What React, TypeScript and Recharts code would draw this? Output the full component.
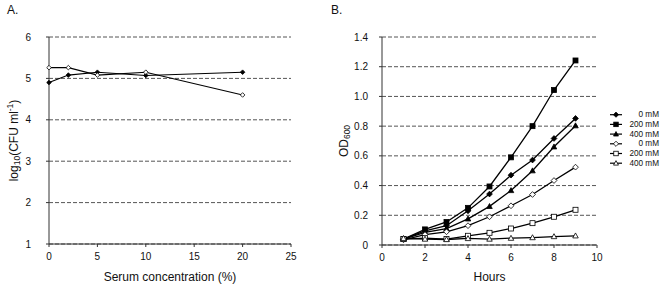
import React from "react";
import { LineChart, Line, XAxis, YAxis, CartesianGrid, Label } from "recharts";

const FONT = "'Liberation Sans', Arial, Helvetica, sans-serif";

// Panel A data
const serumConcentrations = [0, 2, 5, 10, 20];
const cfuFilled = [4.9, 5.08, 5.15, 5.07, 5.15];
const cfuOpen = [5.26, 5.26, 5.08, 5.15, 4.6];
const serumTicks = [0, 5, 10, 15, 20, 25];
const cfuTicks = [1, 2, 3, 4, 5, 6];

// Panel B data
const hours = [1, 2, 3, 4, 5, 6, 7, 8, 9];
const od0Filled = [0.04, 0.095, 0.13, 0.23, 0.343, 0.47, 0.572, 0.717, 0.852];
const od200Filled = [0.04, 0.105, 0.155, 0.25, 0.394, 0.59, 0.8, 1.043, 1.242];
const od400Filled = [0.04, 0.085, 0.11, 0.176, 0.26, 0.367, 0.5, 0.661, 0.803];
const od0Open = [0.035, 0.07, 0.089, 0.13, 0.19, 0.264, 0.34, 0.434, 0.524];
const od200Open = [0.04, 0.046, 0.04, 0.062, 0.082, 0.111, 0.147, 0.19, 0.237];
const od400Open = [0.045, 0.04, 0.037, 0.044, 0.04, 0.046, 0.05, 0.057, 0.062];
const hourTicks = [0, 2, 4, 6, 8, 10];
const odTicks = [0, 0.2, 0.4, 0.6, 0.8, 1.0, 1.2, 1.4];

type Shape = "diamond" | "square" | "triangle";

const seriesB: { key: string; name: string; shape: Shape; filled: boolean; values: number[] }[] = [
  { key: "f0", name: "0 mM", shape: "diamond", filled: true, values: od0Filled },
  { key: "f200", name: "200 mM", shape: "square", filled: true, values: od200Filled },
  { key: "f400", name: "400 mM", shape: "triangle", filled: true, values: od400Filled },
  { key: "o0", name: "0 mM", shape: "diamond", filled: false, values: od0Open },
  { key: "o200", name: "200 mM", shape: "square", filled: false, values: od200Open },
  { key: "o400", name: "400 mM", shape: "triangle", filled: false, values: od400Open },
];

const dataA = serumConcentrations.map((c, i) => ({ c, filled: cfuFilled[i], open: cfuOpen[i] }));
const dataB = hours.map((h, i) => {
  const row: Record<string, number> = { h };
  seriesB.forEach((s) => (row[s.key] = s.values[i]));
  return row;
});

function Marker({ cx, cy, shape, filled, size }: { cx: number; cy: number; shape: Shape; filled: boolean; size: number }) {
  const fill = filled ? "#000" : "#fff";
  const stroke = "#000";
  const r = size / 2;
  if (shape === "diamond") {
    const d = r * 1.15;
    return <polygon points={`${cx},${cy - d} ${cx + d},${cy} ${cx},${cy + d} ${cx - d},${cy}`} fill={fill} stroke={stroke} strokeWidth={0.8} />;
  }
  if (shape === "square") {
    return <rect x={cx - r} y={cy - r} width={size} height={size} fill={fill} stroke={stroke} strokeWidth={0.8} />;
  }
  const h = size * 0.95;
  return (
    <polygon
      points={`${cx},${cy - h * 0.6} ${cx + r * 1.1},${cy + h * 0.45} ${cx - r * 1.1},${cy + h * 0.45}`}
      fill={fill}
      stroke={stroke}
      strokeWidth={0.8}
    />
  );
}

const makeDot = (shape: Shape, filled: boolean, size: number) => (props: any) => {
  const { cx, cy, index } = props;
  if (cx == null || cy == null) return <g key={`e-${index}`} />;
  return (
    <g key={`d-${shape}-${filled}-${index}`}>
      <Marker cx={cx} cy={cy} shape={shape} filled={filled} size={size} />
    </g>
  );
};

const axisColor = "#333";
const tickStyle = { fill: "#111", fontSize: 10, fontFamily: FONT };

const YLabelA = (props: any) => {
  const vb = props.viewBox || { x: 0, y: 37, width: 49, height: 207 };
  const x = 14;
  const y = vb.y + vb.height / 2;
  return (
    <text x={x} y={y} transform={`rotate(-90 ${x} ${y})`} textAnchor="middle" dominantBaseline="central" fontFamily={FONT} fontSize={12} fill="#111">
      <tspan>log</tspan>
      <tspan fontSize={8.5} dy={3}>10</tspan>
      <tspan dy={-3}>(CFU ml</tspan>
      <tspan fontSize={8.5} dy={-4}>-1</tspan>
      <tspan dy={4}>)</tspan>
    </text>
  );
};

const YLabelB = (props: any) => {
  const vb = props.viewBox || { x: 0, y: 37, width: 52, height: 208 };
  const x = 14;
  const y = vb.y + vb.height / 2;
  return (
    <text x={x} y={y} transform={`rotate(-90 ${x} ${y})`} textAnchor="middle" dominantBaseline="central" fontFamily={FONT} fontSize={12} fill="#111">
      <tspan>OD</tspan>
      <tspan fontSize={8.5} dy={3}>600</tspan>
    </text>
  );
};

const XLabel = (text: string) => (props: any) => {
  const vb = props.viewBox || { x: 0, y: 0, width: 0, height: 0 };
  return (
    <text x={vb.x + vb.width / 2} y={281} textAnchor="middle" fontFamily={FONT} fontSize={12} fill="#111">
      {text}
    </text>
  );
};

export default function App() {
  return (
    <div style={{ position: "absolute", left: 0, top: 0, width: 661, height: 286, background: "#fff", overflow: "hidden" }}>
      <div style={{ position: "absolute", left: 7, top: 3, fontFamily: FONT, fontSize: 12, color: "#111" }}>A.</div>
      <div style={{ position: "absolute", left: 331, top: 3, fontFamily: FONT, fontSize: 12, color: "#111" }}>B.</div>

      <div style={{ position: "absolute", left: 0, top: 0 }}>
        <LineChart width={330} height={286} data={dataA} margin={{ top: 37, right: 39, bottom: 0, left: 0 }}>
          <CartesianGrid vertical={false} stroke="#555" strokeDasharray="4 2" />
          <XAxis
            dataKey="c"
            type="number"
            domain={[0, 25]}
            ticks={serumTicks}
            height={42}
            tick={tickStyle}
            tickSize={3}
            tickMargin={6}
            stroke={axisColor}
            interval={0}
          >
            <Label content={XLabel("Serum concentration (%)")} />
          </XAxis>
          <YAxis
            type="number"
            domain={[1, 6]}
            ticks={cfuTicks}
            width={49}
            tick={tickStyle}
            tickSize={3}
            tickMargin={15}
            stroke={axisColor}
            interval={0}
          >
            <Label content={YLabelA} />
          </YAxis>
          <Line dataKey="filled" stroke="#000" strokeWidth={1.1} isAnimationActive={false} dot={makeDot("diamond", true, 4)} activeDot={false} />
          <Line dataKey="open" stroke="#000" strokeWidth={1.1} isAnimationActive={false} dot={makeDot("diamond", false, 4)} activeDot={false} />
        </LineChart>
      </div>

      <div style={{ position: "absolute", left: 330, top: 0 }}>
        <LineChart width={331} height={286} data={dataB} margin={{ top: 37, right: 64, bottom: 0, left: 0 }}>
          <CartesianGrid vertical={false} stroke="#555" strokeDasharray="4 2" />
          <XAxis
            dataKey="h"
            type="number"
            domain={[0, 10]}
            ticks={hourTicks}
            height={41}
            tick={tickStyle}
            tickSize={3}
            tickMargin={6}
            stroke={axisColor}
            interval={0}
          >
            <Label content={XLabel("Hours")} />
          </XAxis>
          <YAxis
            type="number"
            domain={[0, 1.4]}
            ticks={odTicks}
            width={52}
            tick={tickStyle}
            tickSize={3}
            tickMargin={11}
            stroke={axisColor}
            interval={0}
            tickFormatter={(v: number) => (v === 0 ? "0" : v.toFixed(1))}
          >
            <Label content={YLabelB} />
          </YAxis>
          {seriesB.map((s) => (
            <Line
              key={s.key}
              dataKey={s.key}
              name={s.name}
              stroke="#000"
              strokeWidth={1.3}
              isAnimationActive={false}
              dot={makeDot(s.shape, s.filled, 5)}
              activeDot={false}
            />
          ))}
        </LineChart>
      </div>

      <svg style={{ position: "absolute", left: 598, top: 108 }} width={63} height={64}>
        {seriesB.map((s, i) => {
          const y = 6.7 + i * 9.7;
          return (
            <g key={s.key}>
              <line x1={12} x2={24} y1={y} y2={y} stroke="#000" strokeWidth={1.2} />
              <Marker cx={18} cy={y} shape={s.shape} filled={s.filled} size={4.5} />
              <text x={61} y={y} textAnchor="end" dominantBaseline="central" fontFamily={FONT} fontSize={8.2} fill="#111">
                {s.name}
              </text>
            </g>
          );
        })}
      </svg>
    </div>
  );
}
